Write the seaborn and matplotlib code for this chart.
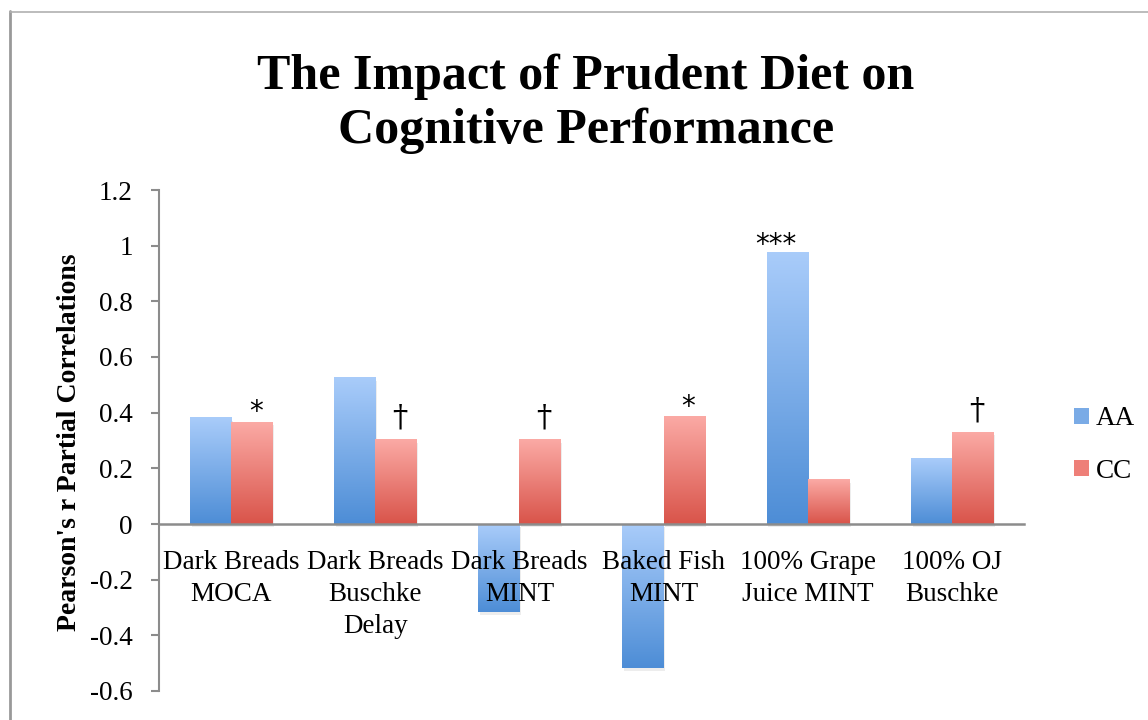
import numpy as np
import pandas as pd
import matplotlib
matplotlib.use("Agg")
import matplotlib.pyplot as plt
import seaborn as sns
from matplotlib.patches import Patch
from matplotlib.lines import Line2D
from matplotlib.colors import LinearSegmentedColormap

# ---------------- data ----------------
categories = ["Dark Breads\nMOCA", "Dark Breads\nBuschke\nDelay", "Dark Breads\nMINT",
              "Baked Fish\nMINT", "100% Grape\nJuice MINT", "100% OJ\nBuschke"]
groups = ["AA", "CC"]
aa_values = [0.382, 0.527, -0.316, -0.517, 0.976, 0.236]
cc_values = [0.366, 0.304, 0.304, 0.385, 0.160, 0.330]
aa_marks = ["", "", "", "", "***", ""]
cc_marks = ["*", "\u2020", "\u2020", "*", "", "\u2020"]
y_ticks = [-0.6, -0.4, -0.2, 0, 0.2, 0.4, 0.6, 0.8, 1.0, 1.2]
y_tick_labels = ["-0.6", "-0.4", "-0.2", "0", "0.2", "0.4", "0.6", "0.8", "1", "1.2"]
title = "The Impact of Prudent Diet on\nCognitive Performance"
y_label = "Pearson's r Partial Correlations"

df = pd.DataFrame({
    "category": categories * 2,
    "group": ["AA"] * len(categories) + ["CC"] * len(categories),
    "value": aa_values + cc_values,
})

# ---------------- style ----------------
sns.set_theme(style="white")
plt.rcParams["font.family"] = ["Liberation Serif", "DejaVu Serif"]
for k in ("text.color", "axes.labelcolor", "xtick.color", "ytick.color"):
    plt.rcParams[k] = "black"

blue_mid = "#7aabe6"
red_mid = "#ee7f78"
grad = {
    "AA": ("#a9ccfa", "#4d8dd6"),
    "CC": ("#fbaaa5", "#d9544a"),
}
axis_gray = "#8c8c8c"

fig = plt.figure(figsize=(11.48, 7.2), dpi=100)
W, H = 1148, 720
ax = fig.add_axes([159 / W, (H - 691) / H, (1024 - 159) / W, (691 - 190) / H])

sns.barplot(data=df, x="category", y="value", hue="group", hue_order=groups,
            palette={"AA": blue_mid, "CC": red_mid}, width=0.57, dodge=True,
            saturation=1, legend=False, ax=ax, errorbar=None)

# gradient fill for every bar
bar_patches = [p for p in ax.patches if p.get_width() > 0]
blue_rgba = matplotlib.colors.to_rgba(blue_mid)
for p in bar_patches:
    fc = p.get_facecolor()
    key = "AA" if abs(fc[2] - blue_rgba[2]) < 0.05 else "CC"
    top_c, bot_c = grad[key]
    x0, w = p.get_x(), p.get_width()
    y0, h = p.get_y(), p.get_height()
    lo, hi = min(y0, y0 + h), max(y0, y0 + h)
    # soft shadow
    ax.add_patch(plt.Rectangle((x0 + 0.012, lo - 0.012), w, hi - lo,
                               facecolor="#000000", alpha=0.07, edgecolor="none",
                               zorder=1.2))
    cmap = LinearSegmentedColormap.from_list("g", [bot_c, top_c])
    gradient = np.linspace(1, 0, 256).reshape(-1, 1)
    ax.imshow(gradient, cmap=cmap, aspect="auto", extent=[x0, x0 + w, lo, hi],
              origin="upper", zorder=1.5, interpolation="bilinear")
    p.set_facecolor("none")
    p.set_edgecolor("none")

# significance markers
n = len(categories)
ordered = sorted(bar_patches, key=lambda p: p.get_x())
aa_bars = ordered[0::2]
cc_bars = ordered[1::2]
for bars, marks in ((aa_bars, aa_marks), (cc_bars, cc_marks)):
    for p, m in zip(bars, marks):
        if not m:
            continue
        xc = p.get_x() + p.get_width() / 2
        top = max(p.get_y(), p.get_y() + p.get_height())
        if m == "\u2020":
            ax.annotate(m, (xc, top), xytext=(3, 4), textcoords="offset points",
                        ha="center", va="bottom", fontsize=22, color="black",
                        family=["DejaVu Serif"], zorder=5)
        elif m == "***":
            ax.annotate(m, (xc, top), xytext=(-8.5, -5), textcoords="offset points",
                        ha="center", va="bottom", fontsize=20, color="black",
                        family=["DejaVu Sans"], zorder=5)
        else:
            ax.annotate(m, (xc, top), xytext=(3, -3), textcoords="offset points",
                        ha="center", va="bottom", fontsize=20, color="black",
                        family=["DejaVu Sans"], zorder=5)

# axes
ax.set_xlim(-0.5, n - 0.5)
ax.set_ylim(-0.6, 1.2)
ax.set_yticks(y_ticks)
ax.set_yticklabels(y_tick_labels)
ax.set_xticks(np.arange(-0.5, n, 1.0))
ax.set_xticklabels([])
ax.tick_params(axis="x", which="major", length=7, width=1.5, color=axis_gray,
               direction="out")
ax.tick_params(axis="y", which="major", length=6, width=1.5, color=axis_gray,
               direction="out", pad=13, left=True, labelsize=19.5, labelcolor="black")

# category labels below the zero line
for i, cat in enumerate(categories):
    ax.annotate(cat, (i, 0), xytext=(0, -18.5), textcoords="offset points",
                ha="center", va="top", fontsize=19.5, color="black",
                linespacing=1.37, zorder=4, annotation_clip=False)

ax.set_xlabel("")
ax.set_ylabel("")
for s in ("top", "right"):
    ax.spines[s].set_visible(False)
ax.spines["bottom"].set_position(("data", 0))
ax.spines["bottom"].set_color(axis_gray)
ax.spines["bottom"].set_linewidth(1.8)
ax.spines["left"].set_color(axis_gray)
ax.spines["left"].set_linewidth(1.5)
ax.set_axisbelow(False)
ax.grid(False)
ax.set_facecolor("none")

# y label
fig.text(70 / W, 1 - 442 / H, y_label, rotation=90, ha="center", va="center",
         fontsize=20, fontweight="bold")

# title
fig.text(586 / W, 1 - 104 / H, title, ha="center", va="center", fontsize=36,
         fontweight="bold", linespacing=1.2)

# legend
handles = [Patch(facecolor=blue_mid, edgecolor="none", label="AA"),
           Patch(facecolor=red_mid, edgecolor="none", label="CC")]
fig.legend(handles=handles, loc="center left", bbox_to_anchor=(1074 / W, 1 - 445 / H),
           frameon=False, fontsize=19.5, handlelength=0.55, handleheight=0.55,
           handletextpad=0.25, labelspacing=1.0, borderaxespad=0, borderpad=0)

# outer frame
fig.add_artist(Line2D([9.5 / W, 9.5 / W], [0, 1 - 11 / H], transform=fig.transFigure,
                      color="#999999", lw=2))
fig.add_artist(Line2D([9.5 / W, 1], [1 - 11.5 / H, 1 - 11.5 / H], transform=fig.transFigure,
                      color="#b0b0b0", lw=1.2))

fig.savefig("out.png", dpi=100)
